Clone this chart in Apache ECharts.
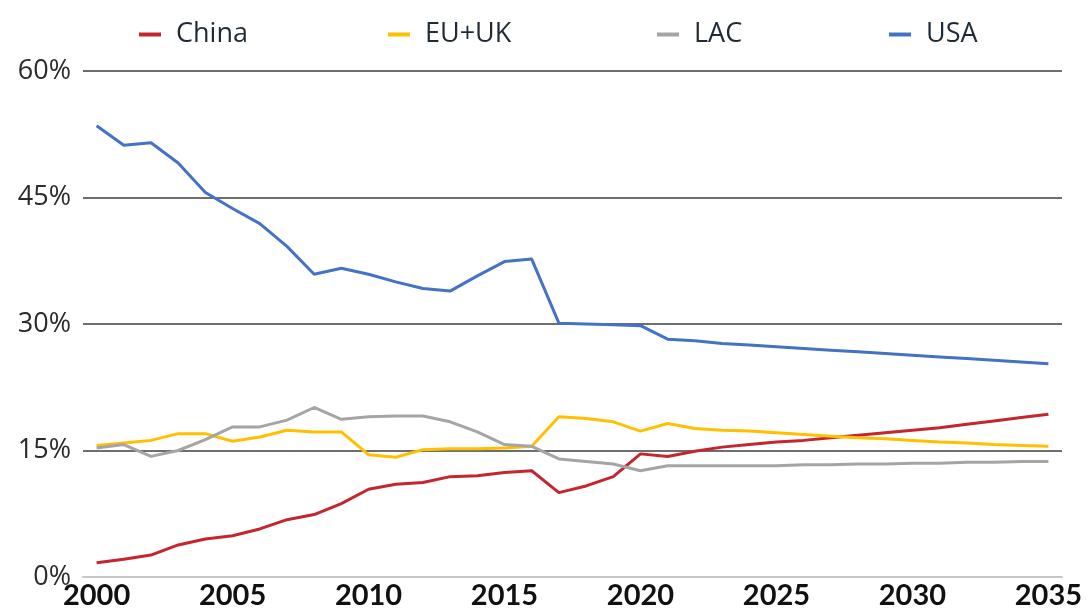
<!DOCTYPE html>
<html>
<head>
<meta charset="utf-8">
<script src="https://cdn.jsdelivr.net/npm/echarts@6/dist/echarts.min.js"></script>
<style>
  html, body { margin: 0; padding: 0; background: #fff; }
  #chart { width: 1091px; height: 611px; }
</style>
</head>
<body>
<div id="chart"></div>
<script>
// years on the x axis
const years = [];
for (let y = 2000; y <= 2035; y++) years.push(String(y));

const seriesNames = ["China", "EU+UK", "LAC", "USA"];
const seriesColors = ["#C3262E", "#FFC000", "#A5A5A5", "#4472C4"];

// values (%)
const china = [1.7, 2.1, 2.6, 3.8, 4.5, 4.9, 5.7, 6.8, 7.4, 8.7,
  10.4, 11.0, 11.2, 11.9, 12.0, 12.4, 12.6, 10.0, 10.8, 11.9,
  14.6, 14.3, 14.9, 15.4, 15.7, 16.0, 16.2, 16.5, 16.8, 17.1,
  17.4, 17.7, 18.1, 18.5, 18.9, 19.3];
const euuk = [15.6, 15.9, 16.2, 17.0, 17.0, 16.1, 16.6, 17.4, 17.2, 17.2,
  14.5, 14.2, 15.1, 15.2, 15.2, 15.3, 15.5, 19.0, 18.8, 18.4,
  17.3, 18.2, 17.6, 17.4, 17.3, 17.1, 16.9, 16.7, 16.5, 16.4,
  16.2, 16.0, 15.9, 15.7, 15.6, 15.5];
const lac = [15.3, 15.7, 14.3, 15.0, 16.3, 17.8, 17.8, 18.6, 20.1, 18.7,
  19.0, 19.1, 19.1, 18.4, 17.2, 15.7, 15.5, 14.0, 13.7, 13.4,
  12.6, 13.2, 13.2, 13.2, 13.2, 13.2, 13.3, 13.3, 13.4, 13.4,
  13.5, 13.5, 13.6, 13.6, 13.7, 13.7];
const usa = [53.5, 51.2, 51.5, 49.1, 45.6, 43.7, 41.9, 39.2, 35.9, 36.6,
  35.9, 35.0, 34.2, 33.9, 35.7, 37.4, 37.7, 30.1, 30.0, 29.9,
  29.8, 28.2, 28.0, 27.7, 27.5, 27.3, 27.1, 26.9, 26.7, 26.5,
  26.3, 26.1, 25.9, 25.7, 25.5, 25.3];
const seriesData = [china, euuk, lac, usa];

const yTicks = [0, 15, 30, 45, 60];

// one legend per item so each sits where the original has it
const legendLefts = [134, 383, 652, 884];

const option = {
  animation: false,
  legend: seriesNames.map((name, i) => ({
    data: [name],
    top: 16,
    left: legendLefts[i],
    itemWidth: 22,
    itemHeight: 4,
    icon: "rect",
    textStyle: { fontFamily: "Open Sans", fontSize: 27, color: "#1f2a36", padding: [0, 0, 0, 10] }
  })),
  grid: { left: 83, right: 29, top: 71, bottom: 34 },
  xAxis: {
    type: "category",
    data: years,
    boundaryGap: true,
    axisTick: { show: false },
    axisLine: { lineStyle: { color: "#C8C8C8", width: 2 } },
    axisLabel: {
      interval: 4,
      margin: 4,
      fontFamily: "Lato",
      fontWeight: "bold",
      fontSize: 29,
      color: "#111"
    }
  },
  yAxis: {
    type: "value",
    min: yTicks[0],
    max: yTicks[yTicks.length - 1],
    interval: 15,
    axisLine: { show: false },
    axisTick: { show: false },
    splitLine: { lineStyle: { color: "#6E6E6E", width: 2 } },
    axisLabel: {
      margin: 12,
      fontFamily: "Open Sans",
      fontWeight: 400,
      fontSize: 27,
      color: "#2b2b2b",
      padding: [0, 0, 10, 0],
      formatter: "{value}%"
    }
  },
  series: seriesNames.map((name, i) => ({
    name: name,
    type: "line",
    data: seriesData[i],
    showSymbol: false,
    symbol: "none",
    lineStyle: { width: 3, color: seriesColors[i] },
    itemStyle: { color: seriesColors[i] }
  }))
};

const myChart = echarts.init(document.getElementById("chart"));
myChart.setOption(option);
</script>
</body>
</html>
